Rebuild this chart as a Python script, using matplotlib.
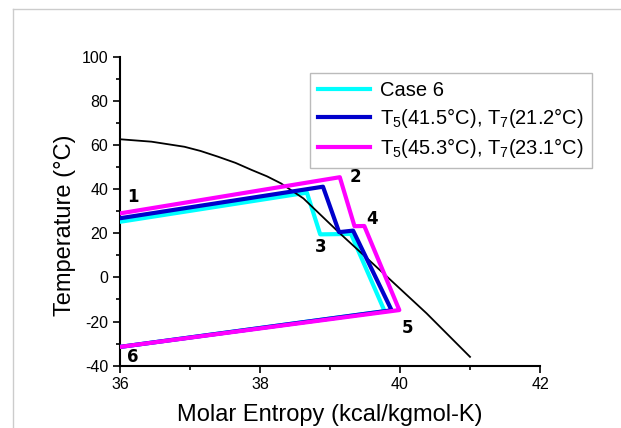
import matplotlib
matplotlib.use('Agg')
import matplotlib.pyplot as plt
from matplotlib.lines import Line2D
from matplotlib.ticker import MultipleLocator

plt.rcParams['font.family'] = ['Liberation Sans', 'DejaVu Sans']
plt.rcParams['mathtext.fontset'] = 'custom'
plt.rcParams['mathtext.rm'] = 'Liberation Sans'
plt.rcParams['mathtext.it'] = 'Liberation Sans'
plt.rcParams['axes.unicode_minus'] = False

# saturation dome (black curve)
dome_s = [36.0, 36.45, 36.92, 37.15, 37.4, 37.65, 37.88, 38.1, 38.3, 38.62, 39.14, 39.71, 40.38, 41.0]
dome_t = [62.6, 61.5, 59.2, 57.3, 54.7, 51.9, 48.7, 45.8, 42.6, 35.8, 20.0, 3.4, -16.3, -36.0]

# cycles: points 1-2-3-4-5-6
case6_s = [36.0, 38.67, 38.86, 39.30, 39.78, 36.0]
case6_t = [25.2, 38.4, 19.5, 19.7, -15.3, -31.5]

blue_s = [36.0, 38.90, 39.13, 39.33, 39.88, 36.0]
blue_t = [26.8, 41.1, 20.5, 21.2, -14.9, -31.5]

mag_s = [36.0, 39.14, 39.35, 39.49, 39.99, 36.0]
mag_t = [29.0, 45.4, 23.2, 23.3, -14.8, -31.5]

# point labels
lab_txt = ['1', '2', '3', '4', '5', '6']
lab_s = [36.1, 39.28, 38.78, 39.52, 40.03, 36.1]
lab_t = [36.5, 45.5, 14.0, 26.5, -23.0, -36.0]

fig = plt.figure(figsize=(6.21, 4.28), dpi=100)
ax = fig.add_axes([0.1932, 0.1456, 0.6764, 0.7219])

ax.plot(case6_s, case6_t, color='#00ffff', linewidth=3, label='Case 6', zorder=3)
ax.plot(dome_s, dome_t, color='black', linewidth=1.3, zorder=3.5)
ax.plot(blue_s, blue_t, color='#0000cc', linewidth=3,
        label='T$_5$(41.5°C), T$_7$(21.2°C)', zorder=4)
ax.plot(mag_s, mag_t, color='#ff00ff', linewidth=3,
        label='T$_5$(45.3°C), T$_7$(23.1°C)', zorder=5)

for t, s, y in zip(lab_txt, lab_s, lab_t):
    ax.text(s, y, t, fontsize=12, fontweight='bold', ha='left', va='center',
            family=['DejaVu Sans'], zorder=6)

ax.set_xlim(36, 42)
ax.set_ylim(-40, 100)
ax.xaxis.set_major_locator(MultipleLocator(2))
ax.xaxis.set_minor_locator(MultipleLocator(1))
ax.yaxis.set_major_locator(MultipleLocator(20))
ax.yaxis.set_minor_locator(MultipleLocator(10))
ax.tick_params(which='major', direction='out', length=5, width=1.2, labelsize=11.5)
ax.tick_params(which='minor', direction='out', length=3, width=1.2)
for side in ['top', 'right']:
    ax.spines[side].set_visible(False)
for side in ['left', 'bottom']:
    ax.spines[side].set_linewidth(1.5)

ax.set_xlabel('Molar Entropy (kcal/kgmol-K)', fontsize=17, labelpad=8)
ax.set_ylabel('Temperature (°C)', fontsize=17)
ax.yaxis.set_label_coords(-0.105, 0.455)

leg = ax.legend(loc='upper left', bbox_to_anchor=(310 / 621, 1 - 72.7 / 428),
                bbox_transform=fig.transFigure, fontsize=14.5, frameon=True,
                fancybox=False, edgecolor='#aaaaaa', handlelength=2.6,
                handletextpad=0.5, borderaxespad=0, labelspacing=0.3,
                borderpad=0.4)
leg.get_frame().set_linewidth(1.0)

# light grey frame of the original picture
fig.add_artist(Line2D([0.021, 0.021], [0, 0.978], color='#cccccc', linewidth=1))
fig.add_artist(Line2D([0.021, 1.0], [0.978, 0.978], color='#cccccc', linewidth=1))

fig.savefig('out.png', dpi=100)
